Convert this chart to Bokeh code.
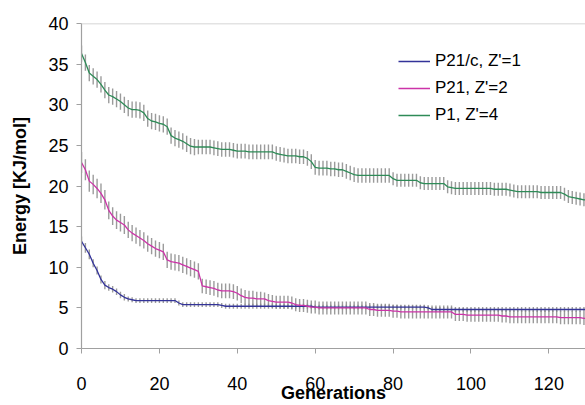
from bokeh.plotting import figure
from bokeh.models import Range1d, Span, Legend, LegendItem, FixedTicker
from bokeh.embed import file_html
from bokeh.resources import INLINE

# ---------------- data ----------------
generations = list(range(0, 131))

p21c_energy = [
    13.2, 12.4, 11.6, 10.5, 9.6, 8.5, 7.8, 7.5, 7.3, 7.0,
    6.6, 6.3, 6.1, 6.0, 5.9, 5.9, 5.9, 5.9, 5.9, 5.9,
    5.9, 5.9, 5.9, 5.9, 5.9, 5.6, 5.4, 5.4, 5.4, 5.4,
    5.4, 5.4, 5.4, 5.4, 5.4, 5.4, 5.3, 5.2, 5.2, 5.2,
    5.2, 5.2, 5.2, 5.2, 5.2, 5.2, 5.2, 5.2, 5.2, 5.2,
    5.2, 5.2, 5.2, 5.2, 5.2, 5.2, 5.2, 5.2, 5.2, 5.2,
    5.1, 5.1, 5.1, 5.1, 5.1, 5.1, 5.1, 5.1, 5.1, 5.1,
    5.1, 5.1, 5.1, 5.1, 5.1, 5.1, 5.1, 5.1, 5.1, 5.1,
    5.1, 5.1, 5.1, 5.1, 5.1, 5.1, 5.1, 5.1, 5.1, 5.0,
    4.8, 4.8, 4.8, 4.8, 4.8, 4.8, 4.8, 4.8, 4.8, 4.8,
    4.8, 4.8, 4.8, 4.8, 4.8, 4.8, 4.8, 4.8, 4.8, 4.8,
    4.8, 4.8, 4.8, 4.8, 4.8, 4.8, 4.8, 4.8, 4.8, 4.8,
    4.8, 4.8, 4.8, 4.8, 4.8, 4.8, 4.8, 4.8, 4.8, 4.8,
    4.8,
]
p21c_err = [
    0.6, 0.6, 0.6, 0.5, 0.5, 0.5, 0.5, 0.4, 0.4, 0.4,
    0.4, 0.4, 0.3, 0.3, 0.3, 0.3, 0.3, 0.3, 0.3, 0.3,
    0.3, 0.3, 0.3, 0.3, 0.3, 0.3, 0.3, 0.3, 0.3, 0.3,
    0.3, 0.3, 0.3, 0.3, 0.3, 0.3, 0.3, 0.3, 0.3, 0.3,
    0.3, 0.3, 0.3, 0.3, 0.3, 0.3, 0.3, 0.3, 0.3, 0.3,
    0.3, 0.3, 0.3, 0.3, 0.3, 0.3, 0.3, 0.3, 0.3, 0.3,
    0.3, 0.3, 0.3, 0.3, 0.3, 0.3, 0.3, 0.3, 0.3, 0.3,
    0.3, 0.3, 0.3, 0.3, 0.3, 0.3, 0.3, 0.3, 0.3, 0.3,
    0.3, 0.3, 0.3, 0.3, 0.3, 0.3, 0.3, 0.3, 0.3, 0.3,
    0.3, 0.3, 0.3, 0.3, 0.3, 0.3, 0.3, 0.3, 0.3, 0.3,
    0.3, 0.3, 0.3, 0.3, 0.3, 0.3, 0.3, 0.3, 0.3, 0.3,
    0.3, 0.3, 0.3, 0.3, 0.3, 0.3, 0.3, 0.3, 0.3, 0.3,
    0.3, 0.3, 0.3, 0.3, 0.3, 0.3, 0.3, 0.3, 0.3, 0.3,
    0.3,
]

p21_energy = [
    22.9, 22.0, 20.6, 20.2, 19.7, 19.1, 18.3, 17.0, 16.3, 15.8,
    15.5, 15.2, 14.6, 14.2, 13.9, 13.6, 13.3, 12.9, 12.6, 12.3,
    12.1, 11.9, 10.9, 10.7, 10.6, 10.5, 10.3, 10.1, 9.9, 9.7,
    9.5, 7.7, 7.6, 7.5, 7.4, 7.2, 7.1, 7.1, 7.1, 7.0,
    6.8, 6.5, 6.3, 6.2, 6.2, 6.1, 6.1, 6.1, 5.9, 5.8,
    5.7, 5.7, 5.7, 5.7, 5.6, 5.4, 5.3, 5.3, 5.2, 5.1,
    5.1, 5.0, 5.0, 5.0, 5.0, 5.0, 5.0, 5.0, 5.0, 5.0,
    5.0, 5.0, 5.0, 5.0, 4.8, 4.8, 4.7, 4.7, 4.7, 4.7,
    4.6, 4.6, 4.5, 4.5, 4.5, 4.5, 4.5, 4.5, 4.5, 4.5,
    4.5, 4.5, 4.5, 4.5, 4.5, 4.5, 4.2, 4.2, 4.2, 4.1,
    4.1, 4.1, 4.1, 4.1, 4.1, 4.1, 4.1, 4.1, 4.0, 4.0,
    3.9, 3.9, 3.9, 3.9, 3.9, 3.9, 3.9, 3.9, 3.9, 3.9,
    3.9, 3.9, 3.9, 3.8, 3.8, 3.8, 3.8, 3.8, 3.8, 3.7,
    3.7,
]
p21_err = [
    1.3, 1.3, 1.3, 1.2, 1.2, 1.2, 1.2, 1.1, 1.1, 1.1,
    1.1, 1.1, 1.0, 1.0, 1.0, 1.0, 1.0, 1.0, 1.0, 1.0,
    1.0, 1.0, 1.0, 1.0, 1.0, 1.0, 1.0, 1.0, 1.0, 1.0,
    1.0, 0.9, 0.9, 0.9, 0.9, 0.9, 0.9, 0.9, 0.9, 0.9,
    0.9, 0.9, 0.9, 0.9, 0.9, 0.9, 0.9, 0.8, 0.8, 0.8,
    0.8, 0.8, 0.8, 0.8, 0.8, 0.8, 0.8, 0.8, 0.8, 0.8,
    0.8, 0.8, 0.8, 0.8, 0.8, 0.8, 0.8, 0.8, 0.8, 0.8,
    0.8, 0.8, 0.8, 0.8, 0.8, 0.8, 0.8, 0.8, 0.8, 0.8,
    0.8, 0.8, 0.8, 0.8, 0.8, 0.8, 0.8, 0.8, 0.8, 0.8,
    0.8, 0.8, 0.8, 0.8, 0.8, 0.8, 0.8, 0.8, 0.8, 0.8,
    0.8, 0.8, 0.8, 0.8, 0.8, 0.8, 0.8, 0.8, 0.8, 0.8,
    0.8, 0.8, 0.8, 0.8, 0.8, 0.8, 0.8, 0.8, 0.8, 0.8,
    0.8, 0.8, 0.8, 0.8, 0.8, 0.8, 0.8, 0.8, 0.8, 0.8,
    0.8,
]

p1_energy = [
    36.3, 35.2, 33.9, 33.5, 33.1, 32.5, 31.8, 31.2, 31.0, 30.7,
    30.4, 30.0, 29.6, 29.4, 29.4, 29.3, 29.0, 28.3, 28.0, 27.9,
    27.7, 27.6, 27.3, 26.2, 25.9, 25.7, 25.5, 25.2, 24.9, 24.8,
    24.8, 24.8, 24.8, 24.8, 24.7, 24.6, 24.5, 24.5, 24.5, 24.4,
    24.3, 24.3, 24.3, 24.2, 24.2, 24.2, 24.2, 24.2, 24.2, 24.2,
    24.0, 23.9, 23.8, 23.7, 23.7, 23.7, 23.6, 23.6, 23.4, 23.0,
    22.3, 22.2, 22.2, 22.2, 22.1, 22.1, 22.0, 22.0, 21.8, 21.6,
    21.4, 21.3, 21.3, 21.3, 21.3, 21.3, 21.3, 21.3, 21.3, 21.3,
    20.9, 20.7, 20.7, 20.7, 20.7, 20.7, 20.7, 20.4, 20.3, 20.3,
    20.3, 20.3, 20.3, 20.3, 19.9, 19.8, 19.7, 19.7, 19.7, 19.7,
    19.7, 19.7, 19.7, 19.7, 19.7, 19.7, 19.6, 19.6, 19.6, 19.6,
    19.5, 19.4, 19.3, 19.3, 19.3, 19.3, 19.3, 19.3, 19.2, 19.2,
    19.2, 19.2, 19.2, 19.2, 19.0, 18.7, 18.6, 18.5, 18.4, 18.3,
    18.3,
]
p1_err = [
    1.0, 1.0, 1.0, 1.0, 1.0, 1.0, 1.0, 1.0, 1.0, 1.0,
    1.0, 1.0, 1.0, 1.0, 1.0, 1.0, 1.0, 1.0, 1.0, 1.0,
    1.0, 1.0, 1.0, 1.0, 1.0, 1.0, 1.0, 1.0, 1.0, 1.0,
    0.9, 0.9, 0.9, 0.9, 0.9, 0.9, 0.9, 0.9, 0.9, 0.9,
    0.9, 0.9, 0.9, 0.9, 0.9, 0.9, 0.9, 0.9, 0.9, 0.9,
    0.9, 0.9, 0.9, 0.9, 0.9, 0.9, 0.9, 0.9, 0.9, 0.9,
    0.9, 0.9, 0.9, 0.9, 0.9, 0.9, 0.9, 0.9, 0.9, 0.9,
    0.9, 0.9, 0.9, 0.9, 0.9, 0.9, 0.9, 0.9, 0.9, 0.9,
    0.8, 0.8, 0.8, 0.8, 0.8, 0.8, 0.8, 0.8, 0.8, 0.8,
    0.8, 0.8, 0.8, 0.8, 0.8, 0.8, 0.8, 0.8, 0.8, 0.8,
    0.8, 0.8, 0.8, 0.8, 0.8, 0.8, 0.8, 0.8, 0.8, 0.8,
    0.8, 0.8, 0.8, 0.8, 0.8, 0.8, 0.8, 0.8, 0.8, 0.8,
    0.8, 0.8, 0.8, 0.8, 0.8, 0.8, 0.8, 0.8, 0.8, 0.8,
    0.8,
]

series_labels = ["P21/c, Z'=1", "P21, Z'=2", "P1, Z'=4"]
series_colors = ["#333399", "#cc33a8", "#2e8b57"]
x_ticks = [0, 20, 40, 60, 80, 100, 120]
y_ticks = [0, 5, 10, 15, 20, 25, 30, 35, 40]

# ---------------- figure ----------------
FONT = "Liberation Sans"
p = figure(width=585, height=405, output_backend="svg", toolbar_location=None,
           x_range=Range1d(0, 129.4), y_range=Range1d(0, 40),
           min_border_left=81, min_border_right=0, min_border_top=23,
           min_border_bottom=55)
p.outline_line_color = None
p.xgrid.grid_line_color = None
p.ygrid.grid_line_color = None
p.background_fill_color = "white"
p.border_fill_color = "white"

p.add_layout(Span(location=40, dimension="width", line_color="#c8c8c8", line_width=1.5))

all_series = [
    (p21c_energy, p21c_err),
    (p21_energy, p21_err),
    (p1_energy, p1_err),
]

# error bars first
for vals, errs in all_series:
    lo = [v - e for v, e in zip(vals, errs)]
    hi = [v + e for v, e in zip(vals, errs)]
    p.segment(x0=generations, y0=lo, x1=generations, y1=hi,
              line_color="#8a8a8a", line_width=1.4, line_alpha=0.85)

renderers = []
for (vals, errs), col in zip(all_series, series_colors):
    r = p.line(generations, vals, line_color=col, line_width=1.3)
    renderers.append(r)

legend = Legend(items=[LegendItem(label=lab, renderers=[r])
                       for lab, r in zip(series_labels, renderers)],
                location=(317, 223))
legend.label_text_font = FONT
legend.label_text_font_size = "17px"
legend.label_text_color = "#000000"
legend.glyph_width = 32
legend.glyph_height = 20
legend.label_height = 20
legend.label_standoff = 5
legend.spacing = 7
legend.padding = 0
legend.margin = 0
legend.border_line_color = None
legend.background_fill_alpha = 0
p.add_layout(legend)

for ax in (p.xaxis, p.yaxis):
    ax.axis_line_color = "#a0a0a0"
    ax.axis_line_width = 1.2
    ax.major_tick_line_color = "#a0a0a0"
    ax.major_tick_out = 5
    ax.major_tick_in = 0
    ax.minor_tick_line_color = None
    ax.major_label_text_font = FONT
    ax.major_label_text_font_size = "18px"
    ax.major_label_text_color = "#000000"
    ax.axis_label_text_font = FONT
    ax.axis_label_text_font_size = "18px"
    ax.axis_label_text_font_style = "bold"
    ax.axis_label_text_color = "#000000"

p.xaxis.ticker = FixedTicker(ticks=x_ticks)
p.yaxis.ticker = FixedTicker(ticks=y_ticks)
p.xaxis.axis_label = "Generations"
p.yaxis.axis_label = "Energy [KJ/mol]"
p.xaxis.major_label_standoff = 23
p.xaxis.axis_label_standoff = -10
p.yaxis.major_label_standoff = 8
p.yaxis.axis_label_standoff = 15

open("out.html", "w").write(file_html(p, INLINE))
